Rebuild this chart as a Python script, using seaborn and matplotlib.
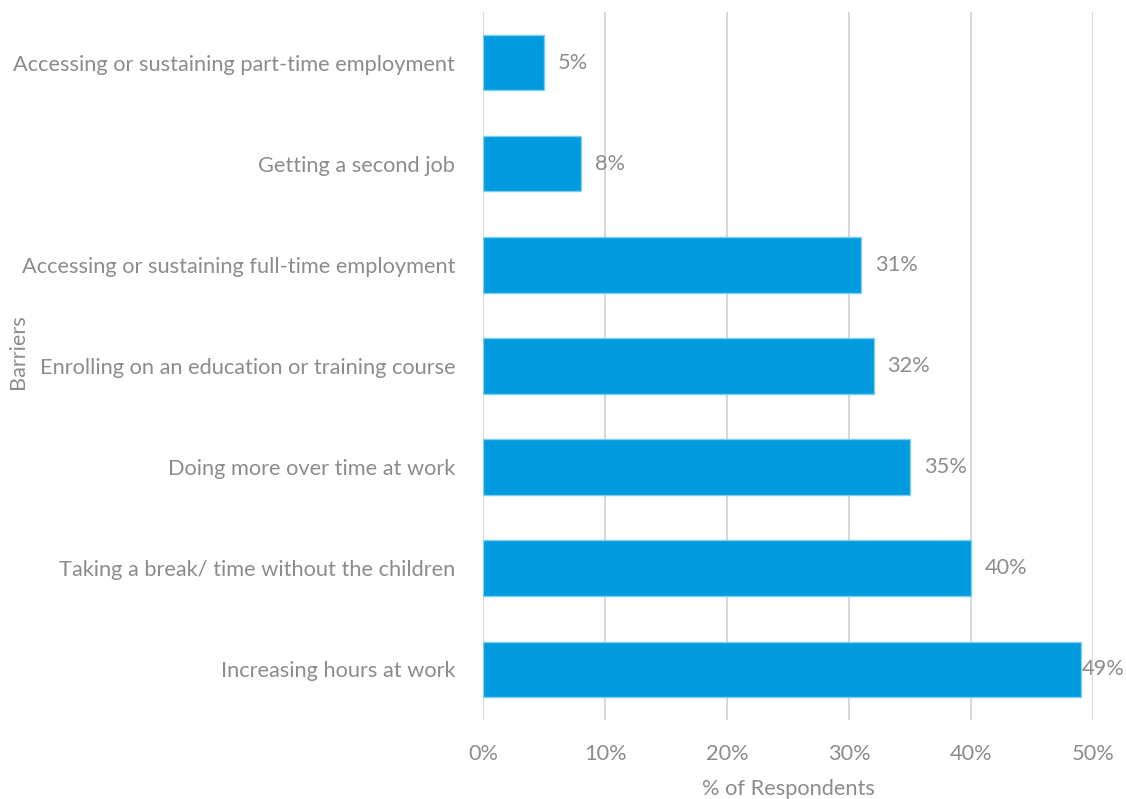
import matplotlib
matplotlib.use("Agg")
import matplotlib.pyplot as plt
import seaborn as sns
import pandas as pd
from matplotlib.ticker import FuncFormatter

barriers = [
    "Accessing or sustaining part-time employment",
    "Getting a second job",
    "Accessing or sustaining full-time employment",
    "Enrolling on an education or training course",
    "Doing more over time at work",
    "Taking a break/ time without the children",
    "Increasing hours at work",
]
percent = [5, 8, 31, 32, 35, 40, 49]
x_ticks = [0, 10, 20, 30, 40, 50]

sns.set_theme(style="white")
plt.rcParams["font.family"] = ["Lato", "DejaVu Sans"]

text_grey = "#8c8c8c"
bar_blue = "#009ADE"
fs = 15.7

df = pd.DataFrame({"Barrier": barriers, "Percent": percent})

fig = plt.figure(figsize=(11.26, 7.99), dpi=100)
ax = fig.add_axes([0.429, 0.099, 0.542, 0.886])

sns.barplot(data=df, x="Percent", y="Barrier", orient="h", color=bar_blue,
            width=0.55, edgecolor="#7fcdf0", linewidth=1, saturation=1, ax=ax)

ax.set_xlim(0, 50)
ax.set_ylim(6.5, -0.5)
ax.set_xticks(x_ticks)
ax.xaxis.set_major_formatter(FuncFormatter(lambda v, p: f"{v:.0f}%"))
ax.grid(axis="x", color="#d9d9d9", linewidth=1.5)
ax.set_axisbelow(True)
for s in ax.spines.values():
    s.set_visible(False)

ax.tick_params(axis="x", length=0, pad=17, labelsize=fs, labelcolor=text_grey)
ax.tick_params(axis="y", length=0, pad=20, labelsize=fs, labelcolor=text_grey)

ax.set_xlabel("% of Respondents", fontsize=fs, color=text_grey, labelpad=11)
ax.set_ylabel("Barriers", fontsize=fs, color=text_grey)
ax.yaxis.set_label_coords(-0.745, 0.52)

# value labels sit just past the bar end; the longest bar's label hugs its end
for i, v in enumerate(percent):
    offset = 0.3 if v >= 45 else 10
    ax.annotate(f"{v}%", xy=(v, i), xytext=(offset, 0), textcoords="offset points",
                va="center", ha="left", fontsize=fs, color=text_grey,
                annotation_clip=False)

fig.savefig("out.png", dpi=100)
